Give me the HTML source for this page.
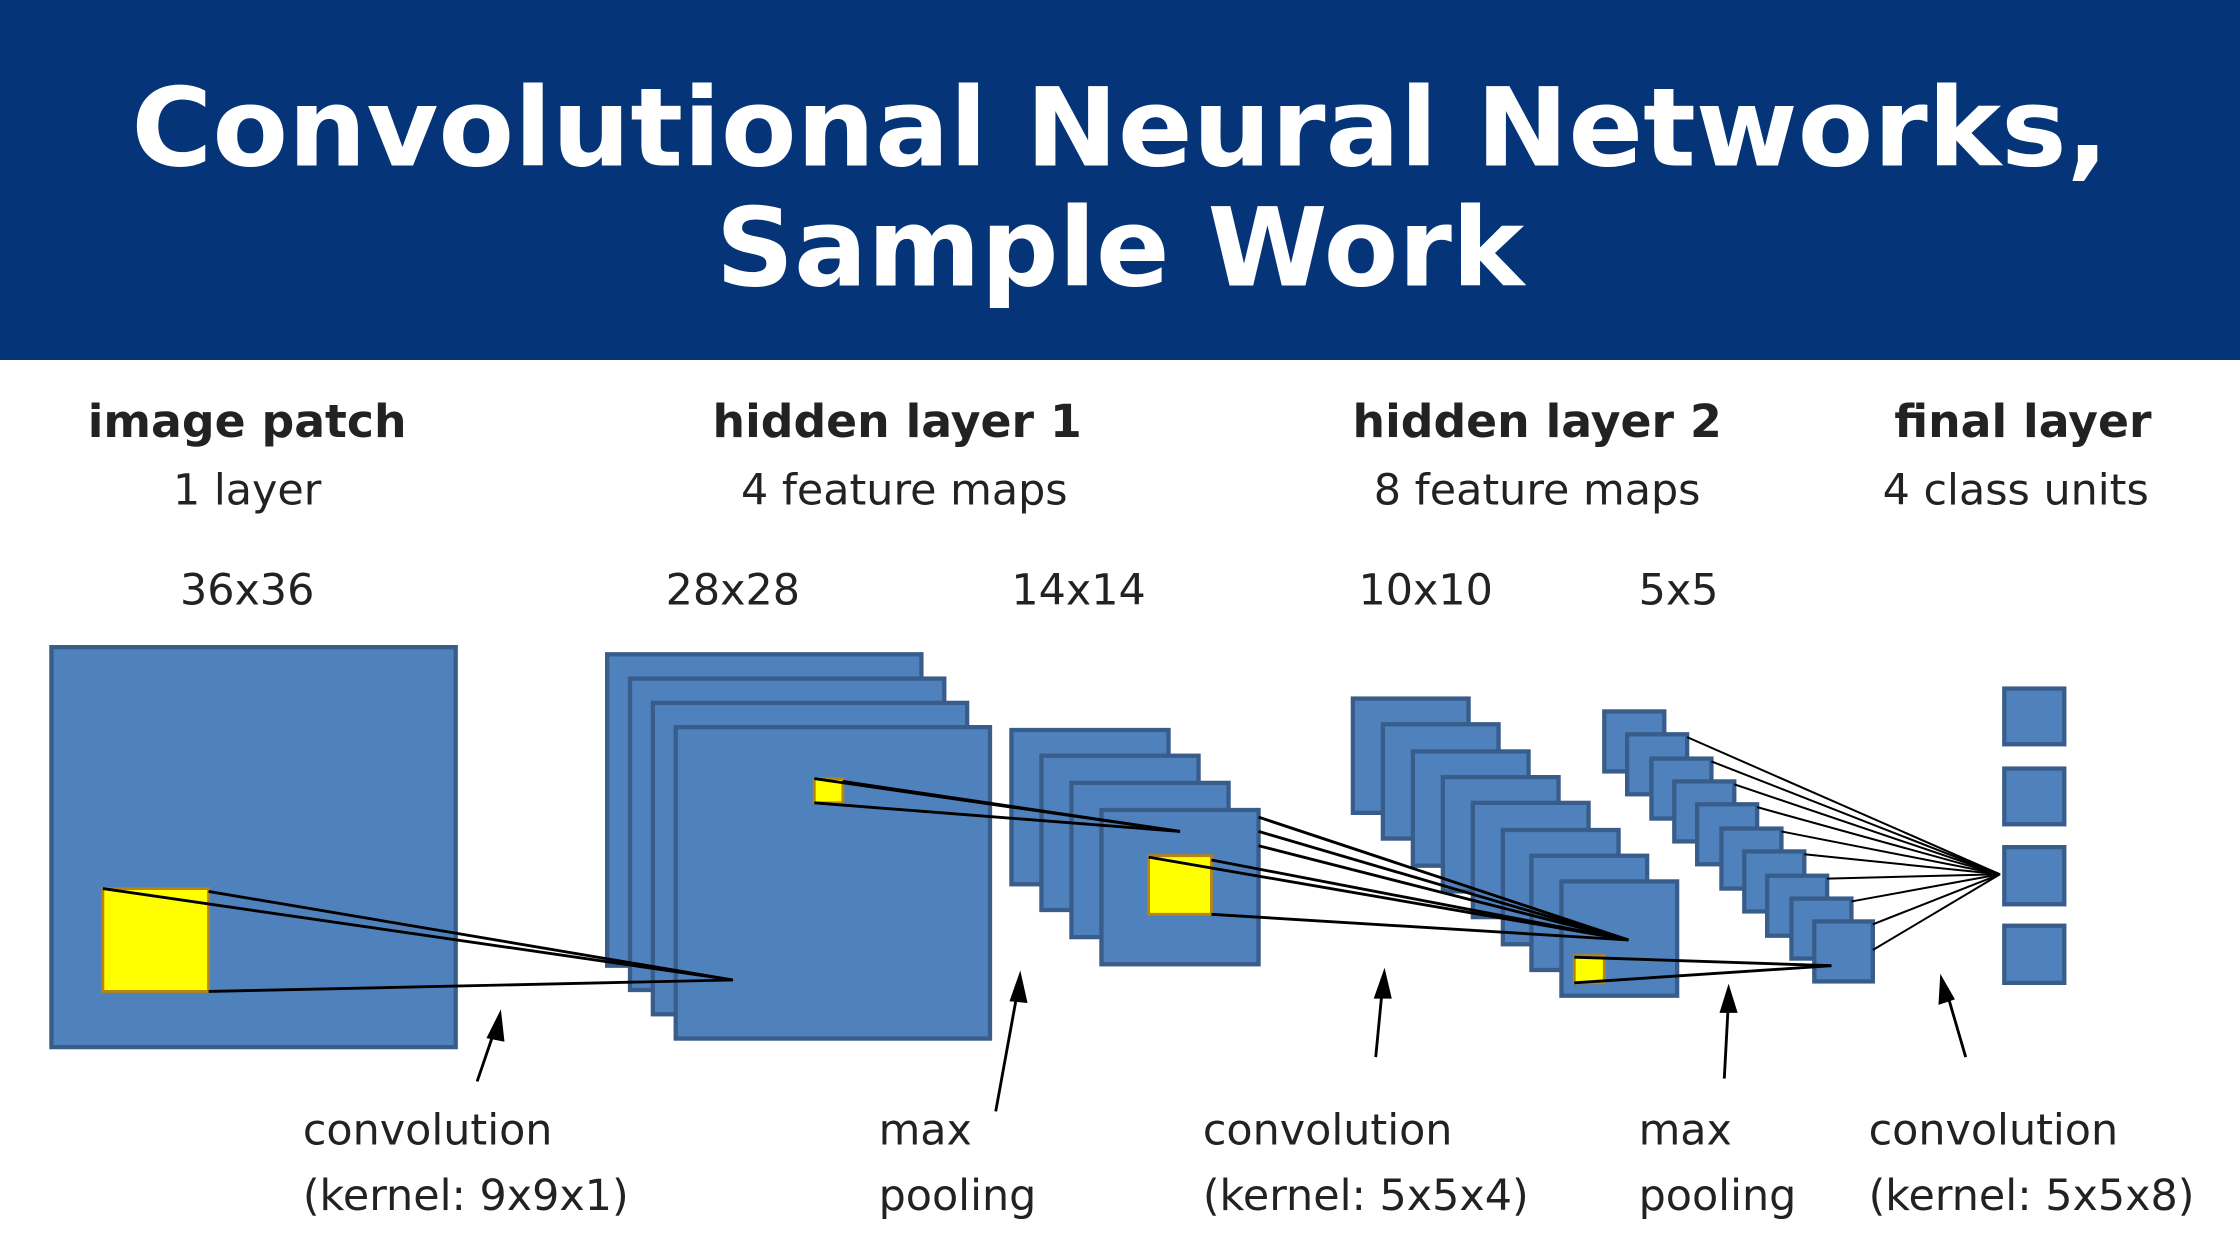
<!DOCTYPE html>
<html><head><meta charset="utf-8"><style>
html,body{margin:0;padding:0;background:#fff;}
svg{display:block;}
</style></head><body>
<svg width="2240" height="1260" viewBox="0 0 1568 882" xmlns="http://www.w3.org/2000/svg">
<rect x="0" y="0" width="1568" height="252" fill="#053578"/>
<g font-family="DejaVu Sans, Liberation Sans, sans-serif" font-weight="bold" fill="#fff" font-size="76" text-anchor="middle">
<text x="784" y="116" textLength="1384" lengthAdjust="spacingAndGlyphs">Convolutional Neural Networks,</text>
<text x="784" y="200" textLength="566" lengthAdjust="spacingAndGlyphs">Sample Work</text>
</g>
<g fill="#4f81bd" stroke="#385d8a" stroke-width="3">
<rect x="36" y="453" width="283" height="280"/>
<rect x="425" y="458" width="220" height="218"/>
<rect x="441" y="475" width="220" height="218"/>
<rect x="457" y="492" width="220" height="218"/>
<rect x="473" y="509" width="220" height="218"/>
<rect x="708" y="511" width="110" height="108"/>
<rect x="729" y="529" width="110" height="108"/>
<rect x="750" y="548" width="110" height="108"/>
<rect x="771" y="567" width="110" height="108"/>
<rect x="947" y="489" width="81" height="80"/>
<rect x="968" y="507" width="81" height="80"/>
<rect x="989" y="526" width="81" height="80"/>
<rect x="1010" y="544" width="81" height="80"/>
<rect x="1031" y="562" width="81" height="80"/>
<rect x="1052" y="581" width="81" height="80"/>
<rect x="1072" y="599" width="81" height="80"/>
<rect x="1093" y="617" width="81" height="80"/>
<rect x="1123" y="498" width="42" height="42"/>
<rect x="1139" y="514" width="42" height="42"/>
<rect x="1156" y="531" width="42" height="42"/>
<rect x="1172" y="547" width="42" height="42"/>
<rect x="1188" y="563" width="42" height="42"/>
<rect x="1205" y="580" width="42" height="42"/>
<rect x="1221" y="596" width="42" height="42"/>
<rect x="1237" y="613" width="42" height="42"/>
<rect x="1254" y="629" width="42" height="42"/>
<rect x="1270" y="645" width="41" height="42"/>
<rect x="1403" y="482" width="42" height="39"/>
<rect x="1403" y="538" width="42" height="39"/>
<rect x="1403" y="593" width="42" height="40"/>
<rect x="1403" y="648" width="42" height="40"/>
</g>
<g fill="#ffff00" stroke="#b8860b" stroke-width="2">
<rect x="72" y="622" width="74" height="72"/>
<rect x="570" y="545" width="20" height="17"/>
<rect x="804" y="599" width="44" height="41"/>
<rect x="1102" y="669" width="21" height="19"/>
</g>
<g stroke="#000" stroke-width="2" fill="none">
<line x1="72" y1="622" x2="513" y2="686"/>
<line x1="146" y1="624" x2="513" y2="686"/>
<line x1="146" y1="694" x2="513" y2="686"/>
<line x1="570" y1="545" x2="826" y2="582"/>
<line x1="590" y1="547" x2="826" y2="582"/>
<line x1="570" y1="562" x2="826" y2="582"/>
<line x1="804" y1="600" x2="1140" y2="658"/>
<line x1="848" y1="602" x2="1140" y2="658"/>
<line x1="848" y1="640" x2="1140" y2="658"/>
<line x1="881" y1="572" x2="1140" y2="658"/>
<line x1="881" y1="582" x2="1140" y2="658"/>
<line x1="881" y1="592" x2="1140" y2="658"/>
<line x1="1102" y1="670" x2="1282" y2="676"/>
<line x1="1102" y1="688" x2="1282" y2="676"/>
</g>
<g stroke="#000" stroke-width="1.4" fill="none">
<line x1="1181" y1="516" x2="1400" y2="612"/>
<line x1="1198" y1="533" x2="1400" y2="612"/>
<line x1="1214" y1="549" x2="1400" y2="612"/>
<line x1="1230" y1="565" x2="1400" y2="612"/>
<line x1="1247" y1="582" x2="1400" y2="612"/>
<line x1="1263" y1="598" x2="1400" y2="612"/>
<line x1="1279" y1="615" x2="1400" y2="612"/>
<line x1="1296" y1="631" x2="1400" y2="612"/>
<line x1="1311" y1="647" x2="1400" y2="612"/>
<line x1="1311" y1="665" x2="1400" y2="612"/>
</g>
<g stroke="#000" stroke-width="2" fill="#000">
<line x1="334" y1="757" x2="348" y2="716"/><polygon points="350,710 342,726 352,728"/>
<line x1="697" y1="778" x2="713" y2="690"/><polygon points="714,683 708,700 718,701"/>
<line x1="963" y1="740" x2="968" y2="688"/><polygon points="969,681 963,698 973,698"/>
<line x1="1207" y1="755" x2="1210" y2="699"/><polygon points="1210,692 1205,708 1215,708"/>
<line x1="1376" y1="740" x2="1362" y2="692"/><polygon points="1359,685 1358,702 1367,699"/>
</g>
<g font-family="DejaVu Sans, Liberation Sans, sans-serif" fill="#222" text-anchor="middle">
<g font-weight="bold" font-size="32">
<text x="173" y="306">image patch</text>
<text x="628" y="306">hidden layer 1</text>
<text x="1076" y="306">hidden layer 2</text>
<text x="1416" y="306">final layer</text>
</g>
<g font-size="30">
<text x="173" y="353">1 layer</text>
<text x="633" y="353">4 feature maps</text>
<text x="1076" y="353">8 feature maps</text>
<text x="1411" y="353">4 class units</text>
<text x="173" y="423">36x36</text>
<text x="513" y="423">28x28</text>
<text x="755" y="423">14x14</text>
<text x="998" y="423">10x10</text>
<text x="1175" y="423">5x5</text>
</g>
<g font-size="30" text-anchor="start">
<text x="212" y="801">convolution</text>
<text x="212" y="847">(kernel: 9x9x1)</text>
<text x="615" y="801">max</text>
<text x="615" y="847">pooling</text>
<text x="842" y="801">convolution</text>
<text x="842" y="847">(kernel: 5x5x4)</text>
<text x="1147" y="801">max</text>
<text x="1147" y="847">pooling</text>
<text x="1308" y="801">convolution</text>
<text x="1308" y="847">(kernel: 5x5x8)</text>
</g>
</g>
</svg>
</body></html>
